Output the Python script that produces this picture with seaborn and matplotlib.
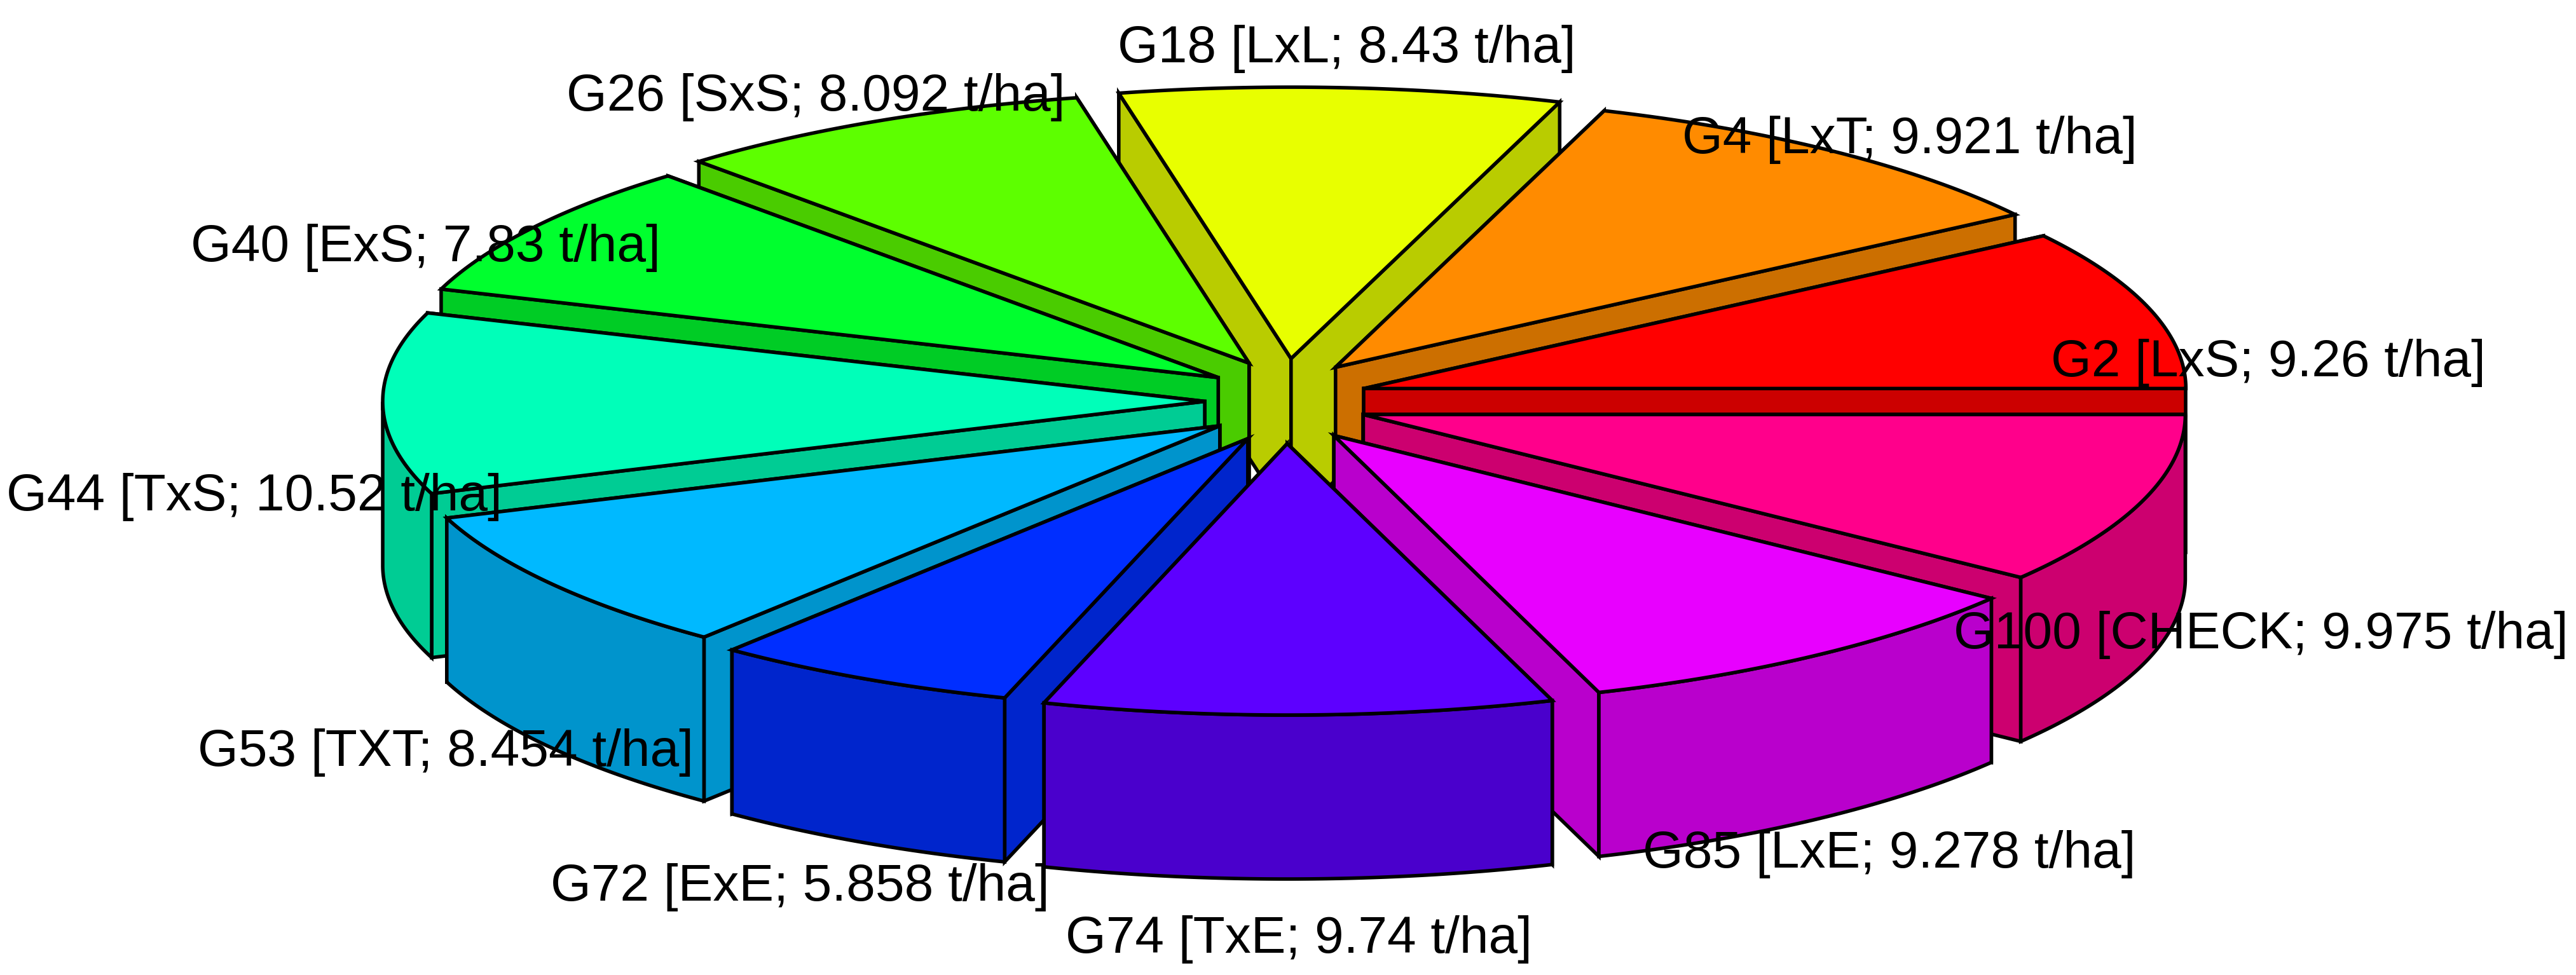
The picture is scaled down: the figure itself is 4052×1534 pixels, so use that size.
#!/usr/bin/env python3

import numpy as np
import seaborn as sns
import matplotlib.pyplot as plt

genotypes = ['G2', 'G4', 'G18', 'G26', 'G40', 'G44', 'G53', 'G72', 'G74', 'G85', 'G100']
crosses = ['LxS', 'LxT', 'LxL', 'SxS', 'ExS', 'TxS', 'TXT', 'ExE', 'TxE', 'LxE', 'CHECK']
yields = [9.26, 9.921, 8.43, 8.092, 7.83, 10.52, 8.454, 5.858, 9.74, 9.278, 9.975]
yield_labels = ['9.26', '9.921', '8.43', '8.092', '7.83', '10.52', '8.454', '5.858', '9.74', '9.278', '9.975']

# pie geometry, in pixels of the output
CX, CY = 2023, 631
RX, RY = 1293, 427
EXPLODE_X, EXPLODE_Y = 128, 67
HEIGHT = 258
SHADE = 0.8
LINE = 4
LABEL_CX, LABEL_CY = 2020, 798
LABEL_RX, LABEL_RY = 1620, 701


def rim(angles, off_x, off_y):
    return off_x + RX * np.cos(angles), off_y - RY * np.sin(angles)


def draw_sector(ax, start, end, color):
    mid = (start + end) / 2
    off_x = CX + EXPLODE_X * np.cos(mid)
    off_y = CY - EXPLODE_Y * np.sin(mid)
    dark = tuple(SHADE * c for c in color)
    style = dict(edgecolor='black', linewidth=LINE, joinstyle='miter')

    # cut faces, the one further back goes first
    for a in sorted([start, end], key=lambda t: -np.sin(t)):
        px, py = rim(np.array([a]), off_x, off_y)
        ax.fill([off_x, px[0], px[0], off_x],
                [off_y, py[0], py[0] + HEIGHT, off_y + HEIGHT],
                facecolor=dark, **style)

    # outer wall, only the part that faces the viewer
    angles = np.linspace(start, end, 200)
    front = angles[np.sin(angles) <= 0.001]
    if len(front) > 1:
        wx, wy = rim(front, off_x, off_y)
        ax.fill(np.r_[wx, wx[::-1]], np.r_[wy, wy[::-1] + HEIGHT],
                facecolor=dark, **style)

    # top
    tx, ty = rim(angles, off_x, off_y)
    ax.fill(np.r_[off_x, tx], np.r_[off_y, ty], facecolor=color, **style)


sns.set_theme(style='white')
plt.rcParams['font.family'] = ['Liberation Sans', 'DejaVu Sans']

f = plt.figure(figsize=(40.52, 15.34), dpi=100)
ax = f.add_axes([0, 0, 1, 1])
ax.set_xlim(0, 4052)
ax.set_ylim(1534, 0)
ax.axis('off')

colors = sns.hls_palette(len(yields), h=0, l=0.5, s=1)
edges = np.r_[0, np.cumsum(yields)] / np.sum(yields) * 2 * np.pi
mids = (edges[:-1] + edges[1:]) / 2

# back to front
for i in np.argsort(-np.sin(mids)):
    draw_sector(ax, edges[i], edges[i + 1], colors[i])

for i, mid in enumerate(mids):
    ax.text(LABEL_CX + LABEL_RX * np.cos(mid), LABEL_CY - LABEL_RY * np.sin(mid),
            '{} [{}; {} t/ha]'.format(genotypes[i], crosses[i], yield_labels[i]),
            ha='center', va='baseline', fontsize=59, color='black')

f.savefig('out.png', dpi=100)
